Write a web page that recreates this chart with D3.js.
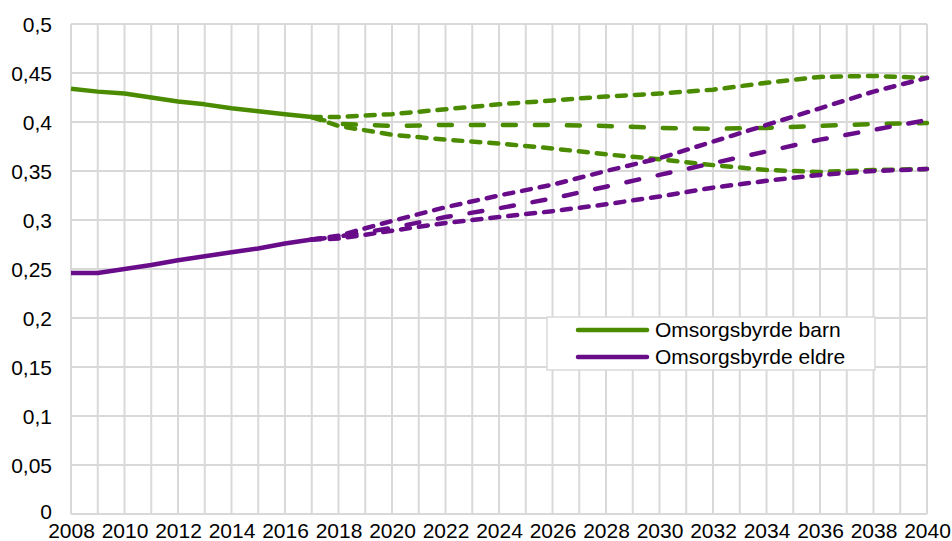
<!DOCTYPE html>
<html>
<head>
<meta charset="utf-8">
<script src="https://cdn.jsdelivr.net/npm/d3@7"></script>
<style>
  body { margin: 0; background: #fff; }
  text { font-family: "Liberation Sans", Arial, sans-serif; }
</style>
</head>
<body>
<div id="chart-area"></div>
<script>
// historical data
var histYears = [2008, 2009, 2010, 2011, 2012, 2013, 2014, 2015, 2016, 2017];
var barnHist = [0.434, 0.431, 0.429, 0.425, 0.421, 0.418, 0.414, 0.411, 0.408, 0.405];
var eldreHist = [0.246, 0.246, 0.25, 0.254, 0.259, 0.263, 0.267, 0.271, 0.276, 0.28];

// projections
var projYears = [2017, 2018, 2020, 2022, 2024, 2026, 2028, 2030, 2032, 2034, 2036, 2038, 2040];
var barnHigh = [0.405, 0.405, 0.408, 0.413, 0.418, 0.422, 0.426, 0.429, 0.433, 0.440, 0.446, 0.447, 0.445];
var barnMid = [0.405, 0.398, 0.396, 0.397, 0.397, 0.397, 0.396, 0.394, 0.393, 0.394, 0.396, 0.398, 0.399];
var barnLow = [0.405, 0.396, 0.387, 0.382, 0.378, 0.373, 0.367, 0.362, 0.356, 0.351, 0.349, 0.351, 0.352];
var eldreHigh = [0.28, 0.284, 0.299, 0.313, 0.325, 0.336, 0.350, 0.363, 0.380, 0.397, 0.414, 0.431, 0.445];
var eldreMid = [0.28, 0.283, 0.292, 0.303, 0.312, 0.322, 0.334, 0.346, 0.358, 0.370, 0.382, 0.392, 0.402];
var eldreLow = [0.28, 0.281, 0.289, 0.297, 0.303, 0.309, 0.316, 0.324, 0.333, 0.340, 0.346, 0.350, 0.352];

var yTicks = [0, 0.05, 0.1, 0.15, 0.2, 0.25, 0.3, 0.35, 0.4, 0.45, 0.5];
var legendNames = ["Omsorgsbyrde barn", "Omsorgsbyrde eldre"];

var green = "#4a8b00";
var purple = "#680c8a";

var margin = {top: 24, bottom: 27, left: 71, right: 25};
var width = 952 - margin.left - margin.right;
var height = 541 - margin.top - margin.bottom;

var svg = d3.select("#chart-area").append("svg")
    .attr("width", 952)
    .attr("height", 541);

var g = svg.append("g")
    .attr("transform", "translate(" + margin.left + "," + margin.top + ")");

var x = d3.scaleLinear()
    .domain([2008, 2040])
    .range([0, width]);

var y = d3.scaleLinear()
    .domain([0, 0.5])
    .range([height, 0]);

// gridlines
g.append("g").selectAll("line")
    .data(d3.range(2008, 2041))
    .enter().append("line")
    .attr("x1", (d) => x(d)).attr("x2", (d) => x(d))
    .attr("y1", 0).attr("y2", height)
    .attr("stroke", "#d9d9d9")
    .attr("stroke-width", 2);

g.append("g").selectAll("line")
    .data(yTicks)
    .enter().append("line")
    .attr("x1", 0).attr("x2", width)
    .attr("y1", (d) => y(d)).attr("y2", (d) => y(d))
    .attr("stroke", "#d9d9d9")
    .attr("stroke-width", 2);

// axes
var leftAxis = d3.axisLeft(y)
    .tickValues(yTicks)
    .tickSize(0)
    .tickPadding(19)
    .tickFormat((d) => String(d).replace(".", ","));
g.append("g")
    .attr("class", "left axis")
    .call(leftAxis)
    .call((a) => a.select(".domain").remove())
    .selectAll("text")
    .attr("font-size", "21px")
    .attr("fill", "#000")
    .attr("dy", (d) => d === 0 ? "0.22em" : "0.38em");

var bottomAxis = d3.axisBottom(x)
    .tickValues(d3.range(2008, 2041, 2))
    .tickSize(0)
    .tickPadding(9)
    .tickFormat((d) => String(d));
g.append("g")
    .attr("class", "bottom axis")
    .attr("transform", "translate(0," + height + ")")
    .call(bottomAxis)
    .call((a) => a.select(".domain").remove())
    .selectAll("text")
    .attr("font-size", "21px")
    .attr("fill", "#000");

var line = d3.line()
    .x((d) => x(d[0]))
    .y((d) => y(d[1]));

function zipYears(years, vals) {
    return years.map((yr, i) => [yr, vals[i]]);
}

var series = [
    {vals: barnHigh, color: green, dash: "9,9"},
    {vals: barnMid, color: green, dash: "13,19"},
    {vals: barnLow, color: green, dash: "9,9"},
    {vals: eldreHigh, color: purple, dash: "9,9"},
    {vals: eldreMid, color: purple, dash: "13,19"},
    {vals: eldreLow, color: purple, dash: "9,9"}
];

series.forEach((s) => {
    g.append("path")
        .attr("d", line(zipYears(projYears, s.vals)))
        .attr("fill", "none")
        .attr("stroke", s.color)
        .attr("stroke-width", 4.5)
        .attr("stroke-linecap", "round")
        .attr("stroke-dasharray", s.dash);
});

g.append("path")
    .attr("d", line(zipYears(histYears, barnHist)))
    .attr("fill", "none")
    .attr("stroke", green)
    .attr("stroke-width", 4.5)
    .attr("stroke-linejoin", "round");

g.append("path")
    .attr("d", line(zipYears(histYears, eldreHist)))
    .attr("fill", "none")
    .attr("stroke", purple)
    .attr("stroke-width", 4.5)
    .attr("stroke-linejoin", "round");

// legend
var legend = svg.append("g")
    .attr("transform", "translate(547,317)");

legend.append("rect")
    .attr("width", 328)
    .attr("height", 53)
    .attr("fill", "#fff")
    .attr("stroke", "#d9d9d9")
    .attr("stroke-width", 1.5);

var items = legend.selectAll("g.item")
    .data(legendNames)
    .enter().append("g")
    .attr("class", "item")
    .attr("transform", (d, i) => "translate(0," + (13 + i * 27) + ")");

items.append("line")
    .attr("x1", 31).attr("x2", 100)
    .attr("y1", 0).attr("y2", 0)
    .attr("stroke", (d, i) => i === 0 ? green : purple)
    .attr("stroke-width", 4.5)
    .attr("stroke-linecap", "round");

items.append("text")
    .attr("x", 108)
    .attr("y", 7)
    .attr("font-size", "21px")
    .attr("fill", "#000")
    .text((d) => d);
</script>
</body>
</html>
